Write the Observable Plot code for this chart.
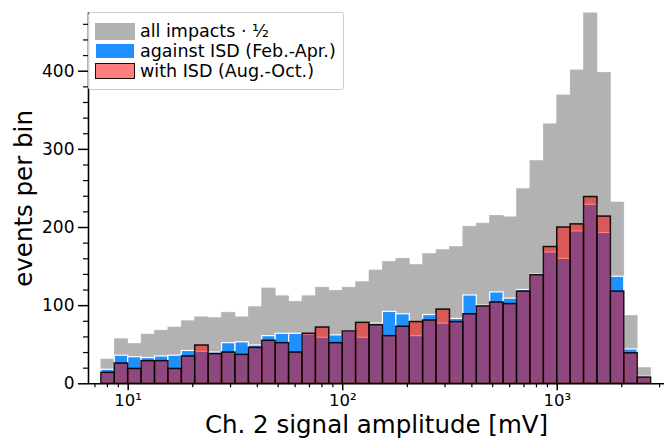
<!DOCTYPE html>
<html>
<head>
<meta charset="utf-8">
<script src="https://cdn.jsdelivr.net/npm/d3@7"></script>
<script src="https://cdn.jsdelivr.net/npm/@observablehq/plot@0.6"></script>
<style>
  html, body { margin: 0; padding: 0; background: #fff; }
  #wrap { position: relative; width: 664px; height: 439px; font-family: "DejaVu Sans", sans-serif; }
  #legend { position: absolute; left: 88px; top: 12px; width: 254px; height: 76px;
    border: 1px solid #cccccc; border-radius: 3px; background: rgba(255,255,255,0.8); }
  .sw { position: absolute; left: 6px; width: 40px; height: 16px; box-sizing: border-box; }
  .lb { position: absolute; left: 51px; font-size: 17.5px; white-space: nowrap; color: #000; line-height: 20px; }
</style>
</head>
<body>
<div id="wrap"></div>
<script>
// Histogram bins: 16 per decade, first bin starts at 10^(14/16) mV
const binExpStart = 14;
const binsPerDecade = 16;

// events per bin
const allImpactsHalf = [31,57,51,63,68,72,80,85,84,91, 85,98,122,112,105,112,123,119,123,130,
  145,156,160,152,166,171,175,201,205,215, 213,249,285,332,369,401,474,398,232,87, 20];
const againstISD = [18,36,34,33,35,36,42,41,40,52, 53,49,61,64,64,63,59,62,67,59,
  77,92,89,61,88,77,83,113,100,117, 109,120,140,168,160,195,229,193,137,44, 9];
const withISD = [14,26,19,29,29,19,35,49,38,40, 37,46,55,52,40,64,72,52,67,78,
  75,61,73,79,81,95,79,89,99,104, 102,118,139,175,200,204,239,214,118,39, 8];

const seriesNames = ["all impacts \u00b7 \u00bd", "against ISD (Feb.-Apr.)", "with ISD (Aug.-Oct.)"];

const xTickValues = [10, 100, 1000];
const xTickLabels = ["10\u00b9", "10\u00b2", "10\u00b3"];
const xMinorTicks = [7,8,9, 20,30,40,50,60,70,80,90, 200,300,400,500,600,700,800,900, 2000,3000];
const yTickValues = [0, 100, 200, 300, 400];
const yMinorTicks = [20,40,60,80,120,140,160,180,220,240,260,280,320,340,360,380,420,440,460];

const xDomain = [Math.pow(10, 0.815), Math.pow(10, 3.5)];
const yDomain = [0, 474.5];

function rows(values) {
  return values.map((v, i) => ({
    x1: Math.pow(10, (binExpStart + i) / binsPerDecade),
    x2: Math.pow(10, (binExpStart + i + 1) / binsPerDecade),
    y1: 0,
    y2: v
  }));
}

const grayColor = "#b2b2b2";
const blueColor = "#1e90ff";

const chart = Plot.plot({
  width: 664,
  height: 439,
  marginLeft: 88,
  marginRight: 0,
  marginTop: 12.5,
  marginBottom: 55.7,
  style: { fontFamily: "DejaVu Sans, sans-serif", background: "white", overflow: "visible" },
  x: { type: "log", domain: xDomain },
  y: { domain: yDomain },
  marks: [
    Plot.rect(rows(allImpactsHalf), { x1: "x1", x2: "x2", y1: "y1", y2: "y2", fill: grayColor, stroke: grayColor, strokeWidth: 0.6, inset: 0 }),
    Plot.rect(rows(againstISD), { x1: "x1", x2: "x2", y1: "y1", y2: "y2", fill: blueColor, stroke: "white", strokeWidth: 1.2, inset: 0 }),
    Plot.rect(rows(withISD), { x1: "x1", x2: "x2", y1: "y1", y2: "y2", fill: "red", fillOpacity: 0.5, stroke: "black", strokeOpacity: 0.9, strokeWidth: 1.5, inset: 0 }),
    Plot.ruleY([0], { stroke: "black", strokeWidth: 1.6 }),
    Plot.ruleX([xDomain[0]], { stroke: "black", strokeWidth: 1.6 }),
    Plot.axisX({ ticks: xTickValues, tickSize: 7, tickPadding: 3, strokeWidth: 1.5, fontSize: 16.5,
      tickFormat: d => xTickLabels[xTickValues.indexOf(d)], label: null }),
    Plot.axisX({ ticks: xMinorTicks, tickSize: 4, strokeWidth: 1.2, tickFormat: () => "", label: null }),
    Plot.axisY({ ticks: yTickValues, tickSize: 10, tickPadding: 4, strokeWidth: 1.5, fontSize: 17,
      tickFormat: d => String(d), label: null }),
    Plot.axisY({ ticks: yMinorTicks, tickSize: 5, strokeWidth: 1.2, tickFormat: () => "", label: null }),
    Plot.text(["events per bin"], { frameAnchor: "left", dx: -64, rotate: -90, textAnchor: "middle", lineAnchor: "middle", fontSize: 24.5, fill: "black" }),
    Plot.text(["Ch. 2 signal amplitude [mV]"], { frameAnchor: "bottom", dy: 41, textAnchor: "middle", lineAnchor: "middle", fontSize: 24.5, fill: "black" })
  ]
});

const wrap = document.getElementById("wrap");
wrap.appendChild(chart);

// legend
const legend = document.createElement("div");
legend.id = "legend";
const swatches = [
  { top: 10, style: `background:${grayColor};height:17px;` },
  { top: 30, style: `background:${blueColor};border:1.2px solid white;` },
  { top: 50, style: `background:rgba(255,0,0,0.5);border:1.5px solid rgba(0,0,0,0.9);` }
];
seriesNames.forEach((name, i) => {
  const sw = document.createElement("div");
  sw.className = "sw";
  sw.style.cssText = swatches[i].style + `top:${swatches[i].top}px;`;
  legend.appendChild(sw);
  const lb = document.createElement("div");
  lb.className = "lb";
  lb.style.top = (swatches[i].top - 2) + "px";
  lb.textContent = name;
  legend.appendChild(lb);
});
wrap.appendChild(legend);
</script>
</body>
</html>
